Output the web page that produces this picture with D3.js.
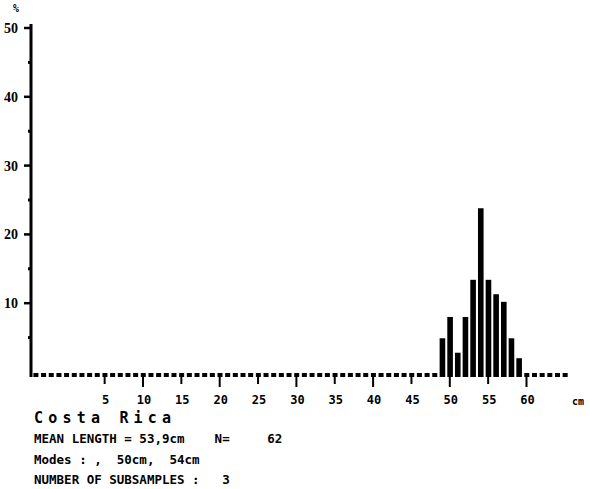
<!DOCTYPE html>
<html>
<head>
<meta charset="utf-8">
<script src="https://cdn.jsdelivr.net/npm/d3@7/dist/d3.min.js"></script>
<style>
  html, body { margin: 0; padding: 0; background: #fff; }
  svg { display: block; }
  text { white-space: pre; }
</style>
</head>
<body>
<div id="chart"></div>
<script>
// ---- data ----
const lengthBins = [49, 50, 51, 52, 53, 54, 55, 56, 57, 58, 59];          // cm classes
const percentValues = [4.9, 8.0, 2.8, 8.0, 13.4, 23.8, 13.4, 11.3, 10.2, 4.9, 2.0]; // %
const xTickValues = [5, 10, 15, 20, 25, 30, 35, 40, 45, 50, 55, 60];
const yTickValues = [10, 20, 30, 40, 50];
const yMinorTicks = [5, 15, 25, 35, 45];
const emptyBinRange = [-4, 65];
const titleText = "Costa Rica";
const infoLines = [
  "MEAN LENGTH = 53,9cm    N=     62",
  "Modes : ,  50cm,  54cm",
  "NUMBER OF SUBSAMPLES :   3"
];
const xUnit = "cm";
const yUnit = "%";

// ---- drawing ----
const W = 590, H = 489;
const svg = d3.select("#chart").append("svg")
  .attr("width", W).attr("height", H);

const x = d3.scaleLinear().domain([0, 60]).range([66.3, 526.5]);
const y = d3.scaleLinear().domain([0, 50]).range([372, 28]);
const baseY = y(0) + 5;

// empty-bin dashes along the baseline
const barSet = new Set(lengthBins);
const emptyBins = d3.range(emptyBinRange[0], emptyBinRange[1] + 1).filter(v => !barSet.has(v));
svg.append("g").selectAll("rect").data(emptyBins).join("rect")
  .attr("x", d => x(d) - 2.2)
  .attr("y", y(0) + 1)
  .attr("width", 5)
  .attr("height", baseY - y(0) - 1)
  .attr("fill", "#000");

// bars
svg.append("g").selectAll("rect").data(lengthBins.map((b, i) => ({b, v: percentValues[i]}))).join("rect")
  .attr("x", d => x(d.b) - 2.5)
  .attr("y", d => y(d.v))
  .attr("width", 5.6)
  .attr("height", d => baseY - y(d.v))
  .attr("fill", "#000");

// x ticks (hanging below baseline)
svg.append("g").selectAll("line").data(xTickValues).join("line")
  .attr("x1", d => x(d)).attr("x2", d => x(d))
  .attr("y1", baseY - 1).attr("y2", d => baseY + (d % 10 === 0 ? 10 : 7))
  .attr("stroke", "#000").attr("stroke-width", 2);

// x tick labels
svg.append("g").selectAll("text").data(xTickValues).join("text")
  .attr("x", d => x(d) + 1)
  .attr("y", 404)
  .attr("text-anchor", "middle")
  .attr("font-family", "DejaVu Sans Mono, monospace")
  .attr("font-weight", "bold")
  .attr("font-size", 12)
  .attr("fill", "#000")
  .text(d => d);

svg.append("text")
  .attr("x", 572).attr("y", 405)
  .attr("font-family", "DejaVu Sans Mono, monospace")
  .attr("font-weight", "bold")
  .attr("font-size", 10)
  .text(xUnit);

// y axis line
svg.append("line")
  .attr("x1", 31).attr("x2", 31)
  .attr("y1", y(50) - 4).attr("y2", baseY)
  .attr("stroke", "#000").attr("stroke-width", 3);

// y ticks
svg.append("g").selectAll("line").data(yTickValues).join("line")
  .attr("x1", 24).attr("x2", 31)
  .attr("y1", d => y(d)).attr("y2", d => y(d))
  .attr("stroke", "#000").attr("stroke-width", 2.5);
svg.append("g").selectAll("line").data(yMinorTicks).join("line")
  .attr("x1", 28).attr("x2", 31)
  .attr("y1", d => y(d)).attr("y2", d => y(d))
  .attr("stroke", "#000").attr("stroke-width", 3);

// y tick labels
svg.append("g").selectAll("text").data(yTickValues).join("text")
  .attr("x", 18)
  .attr("y", d => y(d) + 5)
  .attr("text-anchor", "end")
  .attr("font-family", "Liberation Serif, serif")
  .attr("font-weight", "bold")
  .attr("font-size", 14)
  .attr("fill", "#000")
  .text(d => d);

svg.append("text")
  .attr("x", 16).attr("y", 12)
  .attr("text-anchor", "middle")
  .attr("font-family", "DejaVu Sans Mono, monospace")
  .attr("font-weight", "bold")
  .attr("font-size", 10)
  .text(yUnit);

// title
svg.append("text")
  .attr("x", 34).attr("y", 423)
  .attr("font-family", "DejaVu Sans Mono, monospace")
  .attr("font-weight", "bold")
  .attr("font-size", 15)
  .attr("letter-spacing", 5.2)
  .attr("fill", "#000")
  .text(titleText);

// info lines
svg.append("g").selectAll("text").data(infoLines).join("text")
  .attr("x", 34)
  .attr("y", (d, i) => 443 + i * 20.5)
  .attr("font-family", "DejaVu Sans Mono, monospace")
  .attr("font-weight", "bold")
  .attr("font-size", 12.5)
  .attr("fill", "#000")
  .attr("xml:space", "preserve")
  .text(d => d);
</script>
</body>
</html>
